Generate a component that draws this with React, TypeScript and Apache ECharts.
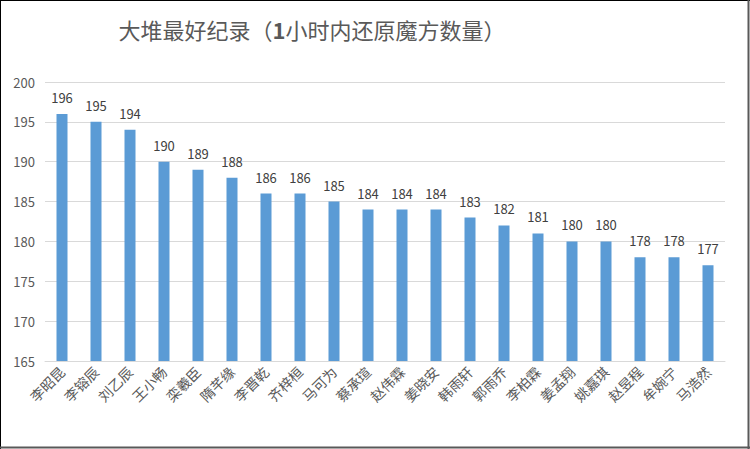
import React, { useRef, useEffect } from 'react';
import * as echarts from 'echarts';

const names = [
  '李昭昆', '李镕辰', '刘乙辰', '王小畅', '栾羲臣', '隋芊缘', '李晋乾', '齐梓桓', '马可为', '蔡承瑄',
  '赵伟霖', '姜晓安', '韩雨轩', '郭雨乔', '李柏霖', '姜孟翔', '姚嘉琪', '赵昱程', '牟婉宁', '马浩然',
];
const records = [196, 195, 194, 190, 189, 188, 186, 186, 185, 184, 184, 184, 183, 182, 181, 180, 180, 178, 178, 177];

const App = () => {
  const chartRef = useRef(null);

  useEffect(() => {
    document.body.style.margin = '0';
    const myChart = echarts.init(chartRef.current, null, { renderer: 'svg' });

    const option = {
      animation: false,
      textStyle: { fontFamily: '"Noto Sans CJK SC", sans-serif' },
      title: {
        text: '大堆最好纪录（{b|1}小时内还原魔方数量）',
        left: 307,
        top: 13,
        textAlign: 'center',
        textStyle: {
          fontSize: 22,
          fontWeight: 'normal',
          color: '#595959',
          rich: {
            b: { fontSize: 22, fontWeight: 'bold', color: '#595959' },
          },
        },
      },
      grid: { left: 45, right: 25, top: 82, bottom: 88 },
      xAxis: {
        type: 'category',
        data: names,
        axisLine: { lineStyle: { color: '#d9d9d9' } },
        axisTick: { show: false },
        axisLabel: {
          interval: 0,
          rotate: 45,
          fontSize: 14,
          color: '#595959',
          margin: 8,
        },
      },
      yAxis: {
        type: 'value',
        min: 165,
        max: 200,
        interval: 5,
        axisLine: { show: false },
        axisTick: { show: false },
        axisLabel: { fontSize: 13, color: '#595959', margin: 10 },
        splitLine: { lineStyle: { color: '#d9d9d9' } },
      },
      series: [
        {
          type: 'bar',
          data: records,
          barWidth: 11,
          itemStyle: { color: '#5b9bd5' },
          label: {
            show: true,
            position: 'top',
            distance: 10,
            fontSize: 13,
            color: '#404040',
          },
        },
      ],
      graphic: [
        { type: 'line', shape: { x1: 0, y1: 0.5, x2: 750, y2: 0.5 }, style: { stroke: '#000', lineWidth: 1 } },
        { type: 'line', shape: { x1: 0.5, y1: 0, x2: 0.5, y2: 449 }, style: { stroke: '#000', lineWidth: 1 } },
        { type: 'line', shape: { x1: 748.5, y1: 0, x2: 748.5, y2: 449 }, style: { stroke: '#595959', lineWidth: 2 } },
        { type: 'line', shape: { x1: 0, y1: 447.5, x2: 750, y2: 447.5 }, style: { stroke: '#595959', lineWidth: 2 } },
      ],
    };

    myChart.setOption(option);

    return () => {
      myChart.dispose();
    };
  }, []);

  return <div ref={chartRef} style={{ width: '750px', height: '449px' }} />;
};

export default App;
